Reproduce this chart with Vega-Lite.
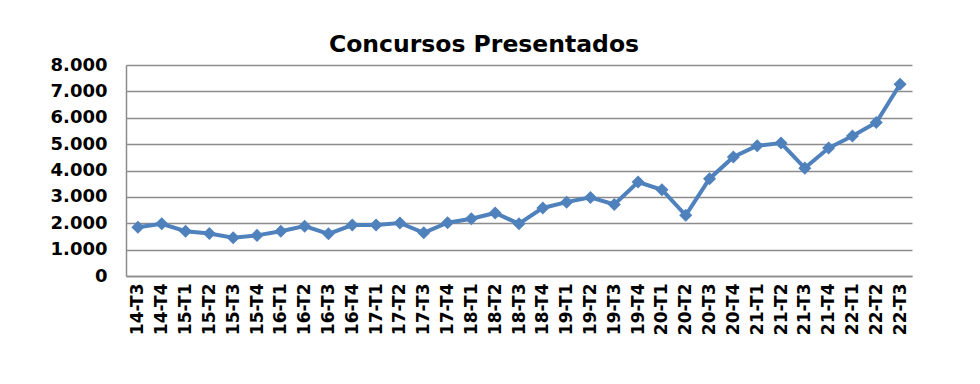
{
  "$schema": "https://vega.github.io/schema/vega-lite/v6.json",
  "width": 786,
  "height": 211,
  "autosize": {"type": "none"},
  "padding": {"left": 126, "top": 65, "right": 68, "bottom": 108},
  "background": "white",
  "config": {"view": {"stroke": null}, "font": "DejaVu Sans"},
  "title": {"text": "Concursos Presentados", "fontSize": 23.5, "fontWeight": "bold", "font": "DejaVu Sans", "color": "black", "offset": 0, "dx": -35},
  "data": {"values": [
    {"periodo": "14-T3", "valor": 1850},
    {"periodo": "14-T4", "valor": 1980},
    {"periodo": "15-T1", "valor": 1700},
    {"periodo": "15-T2", "valor": 1610},
    {"periodo": "15-T3", "valor": 1450},
    {"periodo": "15-T4", "valor": 1540},
    {"periodo": "16-T1", "valor": 1700},
    {"periodo": "16-T2", "valor": 1890},
    {"periodo": "16-T3", "valor": 1600},
    {"periodo": "16-T4", "valor": 1930},
    {"periodo": "17-T1", "valor": 1930},
    {"periodo": "17-T2", "valor": 2010},
    {"periodo": "17-T3", "valor": 1640},
    {"periodo": "17-T4", "valor": 2020},
    {"periodo": "18-T1", "valor": 2170},
    {"periodo": "18-T2", "valor": 2390},
    {"periodo": "18-T3", "valor": 1980},
    {"periodo": "18-T4", "valor": 2580},
    {"periodo": "19-T1", "valor": 2800},
    {"periodo": "19-T2", "valor": 2980},
    {"periodo": "19-T3", "valor": 2710},
    {"periodo": "19-T4", "valor": 3560},
    {"periodo": "20-T1", "valor": 3270},
    {"periodo": "20-T2", "valor": 2300},
    {"periodo": "20-T3", "valor": 3690},
    {"periodo": "20-T4", "valor": 4510},
    {"periodo": "21-T1", "valor": 4940},
    {"periodo": "21-T2", "valor": 5040},
    {"periodo": "21-T3", "valor": 4090},
    {"periodo": "21-T4", "valor": 4850},
    {"periodo": "22-T1", "valor": 5310},
    {"periodo": "22-T2", "valor": 5820},
    {"periodo": "22-T3", "valor": 7270}
  ]},
  "mark": {"type": "line", "color": "#4F81BD", "strokeWidth": 4, "point": {"shape": "diamond", "size": 170, "filled": true, "color": "#4F81BD", "opacity": 1}},
  "encoding": {
    "x": {
      "field": "periodo", "type": "ordinal", "sort": null,
      "scale": {"padding": 0.5},
      "axis": {"title": null, "labelAngle": -90, "labelFontSize": 17, "labelFontWeight": "bold", "labelColor": "black", "labelPadding": 7, "ticks": false, "tickSize": 0, "domainColor": "#8c8c8c", "domainWidth": 1.5, "grid": false}
    },
    "y": {
      "field": "valor", "type": "quantitative",
      "scale": {"domain": [0, 8000], "nice": false},
      "axis": {"title": null, "values": [0, 1000, 2000, 3000, 4000, 5000, 6000, 7000, 8000], "labelExpr": "replace(format(datum.value, ','), ',', '.')", "labelFontSize": 18, "labelFontWeight": "bold", "labelColor": "black", "labelPadding": 19, "ticks": false, "tickSize": 0, "domainColor": "#8c8c8c", "domainWidth": 1.5, "gridColor": "#8c8c8c", "gridWidth": 1.5}
    }
  }
}
